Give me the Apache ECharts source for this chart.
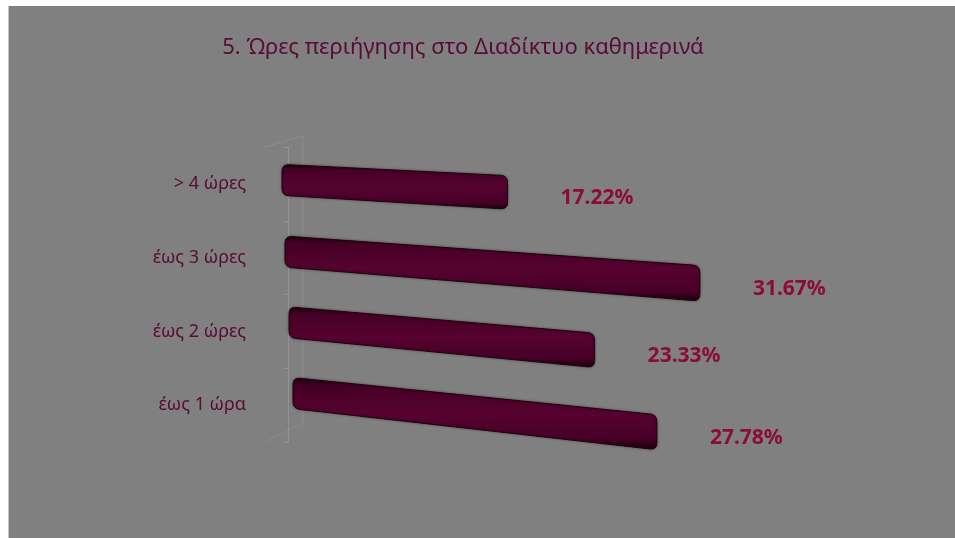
<!DOCTYPE html>
<html>
<head>
<meta charset="utf-8">
<script src="https://cdn.jsdelivr.net/npm/echarts@6/dist/echarts.min.js"></script>
<style>
  html, body { margin: 0; padding: 0; background: #ffffff; }
  #bg { position: absolute; left: 8px; top: 6px; width: 947px; height: 532px;
        background: #808080; border-left: 1px solid #c4c4c4; box-sizing: border-box; }
  #chart { position: absolute; left: 0; top: 0; width: 955px; height: 538px; }
</style>
</head>
<body>
<div id="bg"></div>
<div id="chart"></div>
<script>
// Daily internet browsing time, share of respondents (%)
const categories = ['έως 1 ώρα', 'έως 2 ώρες', 'έως 3 ώρες', '> 4 ώρες'];
const shares = [27.78, 23.33, 31.67, 17.22];
const titleText = '5. Ώρες περιήγησης στο Διαδίκτυο καθημερινά';

// Perspective tweaks per row (bottom row first): horizontal shift of the
// bar start, vertical shift of the bar centre and the slant of the top edge.
const rowShift = [5, 1, -3, -6];
const rowLift = [-12, -9, -6, -4];
const rowSlant = [0.102, 0.086, 0.071, 0.05];

const TEXT_DARK = '#5a0a33';
const LABEL_RED = '#8a0c3b';
const FONT = '"Noto Sans", "Open Sans", sans-serif';

// Path through the given corner points with rounded corners.
function roundedPath(pts, r) {
  const n = pts.length;
  let d = '';
  for (let i = 0; i < n; i++) {
    const p = pts[i], prev = pts[(i + n - 1) % n], next = pts[(i + 1) % n];
    const v1 = [prev[0] - p[0], prev[1] - p[1]], v2 = [next[0] - p[0], next[1] - p[1]];
    const l1 = Math.hypot(v1[0], v1[1]), l2 = Math.hypot(v2[0], v2[1]);
    const rr = Math.min(r, l1 / 2, l2 / 2);
    const a = [p[0] + v1[0] / l1 * rr, p[1] + v1[1] / l1 * rr];
    const b = [p[0] + v2[0] / l2 * rr, p[1] + v2[1] / l2 * rr];
    d += (i === 0 ? 'M' : 'L') + a[0].toFixed(2) + ' ' + a[1].toFixed(2);
    d += 'Q' + p[0].toFixed(2) + ' ' + p[1].toFixed(2) + ' ' + b[0].toFixed(2) + ' ' + b[1].toFixed(2);
  }
  return d + 'Z';
}

function renderBar(params, api) {
  const row = api.value(1);
  const val = api.value(0);
  const start = api.coord([0, row]);
  const end = api.coord([val, row]);
  const x0 = start[0] + rowShift[row];
  const x1 = end[0] + rowShift[row];
  const yc = start[1] + rowLift[row];
  const len = x1 - x0;
  const half = 15.5;
  const s = rowSlant[row];
  const grow = 0.011;
  const pts = [
    [x0, yc - half],
    [x1, yc - half + s * len],
    [x1, yc + half + (s + grow) * len],
    [x0, yc + half]
  ];
  const rightMid = yc + (s + grow / 2) * len;
  return {
    type: 'group',
    children: [
      {
        type: 'path',
        shape: { pathData: roundedPath(pts, 7) },
        style: {
          fill: {
            type: 'linear', x: 0, y: 0, x2: 0, y2: 1,
            colorStops: [
              { offset: 0, color: '#1e000f' },
              { offset: 0.12, color: '#460025' },
              { offset: 0.5, color: '#56032f' },
              { offset: 0.85, color: '#480027' },
              { offset: 1, color: '#1a000c' }
            ]
          },
          stroke: '#20000d',
          lineWidth: 1,
          shadowBlur: 3,
          shadowColor: 'rgba(0,0,0,0.35)'
        }
      },
      {
        type: 'text',
        x: x1 + 53,
        y: rightMid + 6,
        style: {
          text: val.toFixed(2) + '%',
          fill: LABEL_RED,
          font: 'bold 21px ' + FONT,
          textAlign: 'left',
          textVerticalAlign: 'middle'
        }
      }
    ]
  };
}

const chart = echarts.init(document.getElementById('chart'), null, { renderer: 'canvas' });
const frame = 'rgba(215,215,215,0.22)';
const frameFaint = 'rgba(215,215,215,0.14)';
chart.setOption({
  backgroundColor: 'transparent',
  animation: false,
  title: {
    text: titleText,
    left: 458,
    top: 32,
    textAlign: 'center',
    textStyle: { color: TEXT_DARK, fontSize: 22, fontWeight: 'normal', fontFamily: FONT }
  },
  grid: { left: 288, right: 143, top: 147, bottom: 96 },
  xAxis: {
    type: 'value', min: 0, max: 40, show: false
  },
  yAxis: {
    type: 'category',
    data: categories,
    offset: 23,
    axisLine: { show: true, lineStyle: { color: frame, width: 1 } },
    axisTick: { show: true, length: 4, lineStyle: { color: frame } },
    axisLabel: { color: TEXT_DARK, fontSize: 18, fontFamily: FONT, margin: 19 },
    splitLine: { show: false }
  },
  graphic: [
    { type: 'line', shape: { x1: 265, y1: 147, x2: 303, y2: 136 }, style: { stroke: frameFaint, lineWidth: 1 }, silent: true },
    { type: 'line', shape: { x1: 303, y1: 136, x2: 303, y2: 423 }, style: { stroke: frameFaint, lineWidth: 1 }, silent: true },
    { type: 'line', shape: { x1: 265, y1: 442, x2: 303, y2: 423 }, style: { stroke: frameFaint, lineWidth: 1 }, silent: true }
  ],
  series: [{
    type: 'custom',
    renderItem: renderBar,
    encode: { x: 0, y: 1 },
    data: shares.map((v, i) => [v, i]),
    z: 5
  }]
});
</script>
</body>
</html>
